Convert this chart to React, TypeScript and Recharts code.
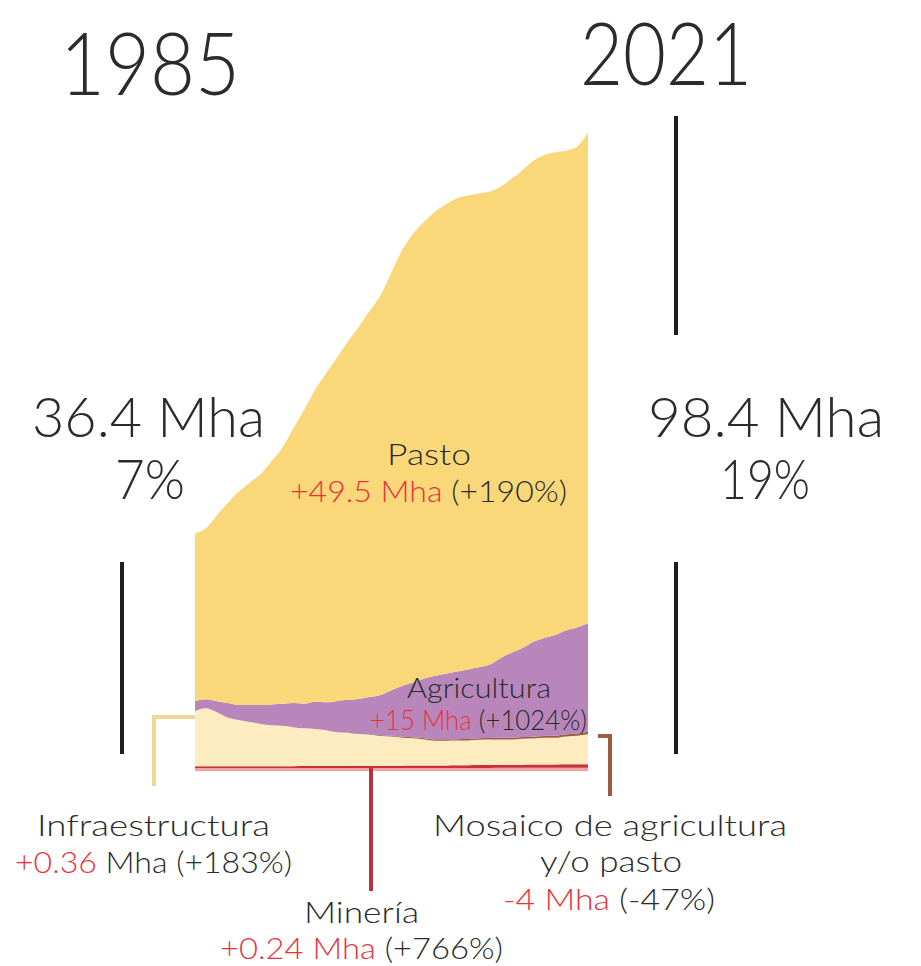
import React from 'react';
import { AreaChart, Area, XAxis, YAxis } from 'recharts';

const years = [
  1985, 1986, 1987, 1988, 1989, 1990, 1991, 1992, 1993, 1994, 1995, 1996, 1997,
  1998, 1999, 2000, 2001, 2002, 2003, 2004, 2005, 2006, 2007, 2008, 2009, 2010,
  2011, 2012, 2013, 2014, 2015, 2016, 2017, 2018, 2019, 2020, 2021,
];

// Mha per year
const infraestructura = [
  0.45, 0.45, 0.45, 0.45, 0.45, 0.45, 0.45, 0.45, 0.45, 0.45, 0.45, 0.45, 0.45,
  0.46, 0.46, 0.46, 0.46, 0.46, 0.46, 0.47, 0.47, 0.47, 0.47, 0.47, 0.48, 0.48,
  0.48, 0.48, 0.49, 0.49, 0.49, 0.5, 0.5, 0.5, 0.5, 0.5, 0.5,
];
const mineria = [
  0.3, 0.3, 0.3, 0.3, 0.3, 0.3, 0.3, 0.3, 0.3, 0.3, 0.31, 0.31, 0.31, 0.32,
  0.32, 0.33, 0.33, 0.34, 0.34, 0.35, 0.36, 0.37, 0.38, 0.39, 0.4, 0.42, 0.43,
  0.45, 0.46, 0.47, 0.48, 0.5, 0.5, 0.51, 0.52, 0.53, 0.55,
];
const mosaico = [
  8.5, 8.9, 8.3, 7.5, 7.1, 6.8, 6.5, 6.3, 6.2, 6.0, 5.8, 5.7, 5.5, 5.2, 5.1,
  4.9, 4.8, 4.6, 4.5, 4.3, 4.2, 4.0, 3.8, 3.8, 3.8, 3.8, 3.9, 3.9, 3.9, 3.9,
  4.0, 4.0, 4.1, 4.1, 4.3, 4.4, 4.6,
];
const otros = [
  0, 0, 0, 0, 0, 0, 0, 0, 0, 0, 0, 0, 0, 0, 0, 0, 0.05, 0.1, 0.12, 0.15, 0.18,
  0.2, 0.22, 0.22, 0.22, 0.22, 0.24, 0.24, 0.25, 0.25, 0.26, 0.27, 0.28, 0.3,
  0.32, 0.34, 0.38,
];
const agricultura = [
  1.5, 1.4, 1.7, 2.2, 2.3, 2.6, 2.9, 3.2, 3.4, 3.7, 3.8, 4.2, 4.3, 4.8, 5.1,
  5.4, 5.75, 6.2, 7.0, 7.85, 8.4, 9.2, 9.8, 10.1, 10.4, 10.7, 10.9, 11.3, 12.3,
  13.1, 13.7, 14.6, 15.1, 15.5, 16.0, 16.3, 16.7,
];
const pasto = [
  25.8, 26.3, 28.6, 30.8, 32.8, 34.2, 35.5, 37.4, 39.4, 42.2, 45.2, 48.0, 50.6,
  52.8, 55.1, 57.2, 59.4, 61.5, 64.3, 67.1, 69.1, 70.3, 71.4, 72.2, 72.8, 72.9,
  72.9, 72.8, 72.5, 72.9, 73.5, 74.0, 74.3, 74.3, 73.8, 74.0, 75.5,
];

const data = years.map((year, i) => ({
  year,
  infraestructura: infraestructura[i],
  mineria: mineria[i],
  mosaico: mosaico[i],
  otros: otros[i],
  agricultura: agricultura[i],
  pasto: pasto[i],
}));

const FONT = 'Lato, "Open Sans", sans-serif';
const DARK = '#2b2b2b';
const RED = '#e8323c';

const Overlay = () => (
  <svg
    width={921}
    height={966}
    style={{ position: 'absolute', left: 0, top: 0, pointerEvents: 'none' }}
    fontFamily={FONT}
    fontWeight={300}
  >
    {/* years */}
    <text x={60} y={95} fontSize={86} fill={DARK} textLength={180} lengthAdjust="spacingAndGlyphs">1985</text>
    <text x={580} y={85} fontSize={86} fill={DARK} textLength={172} lengthAdjust="spacingAndGlyphs">2021</text>

    {/* totals */}
    <text x={32} y={437} fontSize={56} fill={DARK} textLength={233} lengthAdjust="spacingAndGlyphs">36.4 Mha</text>
    <text x={115} y={499} fontSize={56} fill={DARK} textLength={70} lengthAdjust="spacingAndGlyphs">7%</text>
    <text x={648} y={437} fontSize={56} fill={DARK} textLength={236} lengthAdjust="spacingAndGlyphs">98.4 Mha</text>
    <text x={720} y={499} fontSize={56} fill={DARK} textLength={90} lengthAdjust="spacingAndGlyphs">19%</text>

    {/* bars */}
    <rect x={120} y={562} width={4} height={192} fill="#1e1e1e" />
    <rect x={674} y={116} width={4} height={219} fill="#1e1e1e" />
    <rect x={674} y={562} width={4} height={192} fill="#1e1e1e" />

    {/* pasto */}
    <text x={387} y={465} fontSize={30} fill={DARK} textLength={84} lengthAdjust="spacingAndGlyphs">Pasto</text>
    <text x={290} y={502} fontSize={30} fill={DARK} textLength={277} lengthAdjust="spacingAndGlyphs">
      <tspan fill={RED}>+49.5 Mha</tspan> (+190%)
    </text>

    {/* agricultura */}
    <text x={407} y={698} fontSize={28} fill={DARK} textLength={144} lengthAdjust="spacingAndGlyphs">Agricultura</text>
    <text x={370} y={730} fontSize={28} fill={DARK} textLength={217} lengthAdjust="spacingAndGlyphs">
      <tspan fill={RED}>+15 Mha</tspan> (+1024%)
    </text>

    {/* infraestructura callout */}
    <polyline points="154,786 154,717 195,717" fill="none" stroke="#f0d49a" strokeWidth={4} />
    <text x={37} y={836} fontSize={30} fill={DARK} textLength={233} lengthAdjust="spacingAndGlyphs">Infraestructura</text>
    <text x={15} y={873} fontSize={30} fill={DARK} textLength={277} lengthAdjust="spacingAndGlyphs">
      <tspan fill={RED}>+0.36</tspan> Mha (+183%)
    </text>

    {/* mineria callout */}
    <line x1={371} y1={766} x2={371} y2={891} stroke="#b8333b" strokeWidth={4} />
    <text x={304} y={923} fontSize={30} fill={DARK} textLength={115} lengthAdjust="spacingAndGlyphs">Minería</text>
    <text x={220} y={959} fontSize={30} fill={DARK} textLength={283} lengthAdjust="spacingAndGlyphs">
      <tspan fill={RED}>+0.24 Mha</tspan> (+766%)
    </text>

    {/* mosaico callout */}
    <polyline points="598,736 610,736 610,796" fill="none" stroke="#9a5d42" strokeWidth={4} />
    <text x={433} y={836} fontSize={30} fill={DARK} textLength={354} lengthAdjust="spacingAndGlyphs">Mosaico de agricultura</text>
    <text x={540} y={872} fontSize={30} fill={DARK} textLength={142} lengthAdjust="spacingAndGlyphs">y/o pasto</text>
    <text x={503} y={910} fontSize={30} fill={DARK} textLength={212} lengthAdjust="spacingAndGlyphs">
      <tspan fill={RED}>-4 Mha</tspan> (-47%)
    </text>
  </svg>
);

const App = () => {
  return (
    <div style={{ position: 'absolute', left: 0, top: 0, width: 921, height: 966, background: '#fff' }}>
      <AreaChart
        width={921}
        height={966}
        data={data}
        margin={{ top: 121, right: 333, bottom: 195, left: 195 }}
      >
        <XAxis dataKey="year" type="number" domain={[1985, 2021]} hide />
        <YAxis type="number" domain={[0, 100]} hide />
        <Area type="monotone" dataKey="infraestructura" stackId="1" stroke="none" fill="#f4a0a0" fillOpacity={1} isAnimationActive={false} />
        <Area type="monotone" dataKey="mineria" stackId="1" stroke="none" fill="#c8323a" fillOpacity={1} isAnimationActive={false} />
        <Area type="monotone" dataKey="mosaico" stackId="1" stroke="none" fill="#fcecc0" fillOpacity={1} isAnimationActive={false} />
        <Area type="monotone" dataKey="otros" stackId="1" stroke="none" fill="#9c5f40" fillOpacity={1} isAnimationActive={false} />
        <Area type="monotone" dataKey="agricultura" stackId="1" stroke="none" fill="#b886bb" fillOpacity={1} isAnimationActive={false} />
        <Area type="monotone" dataKey="pasto" stackId="1" stroke="none" fill="#fad87a" fillOpacity={1} isAnimationActive={false} />
      </AreaChart>
      <Overlay />
    </div>
  );
};

export default App;
